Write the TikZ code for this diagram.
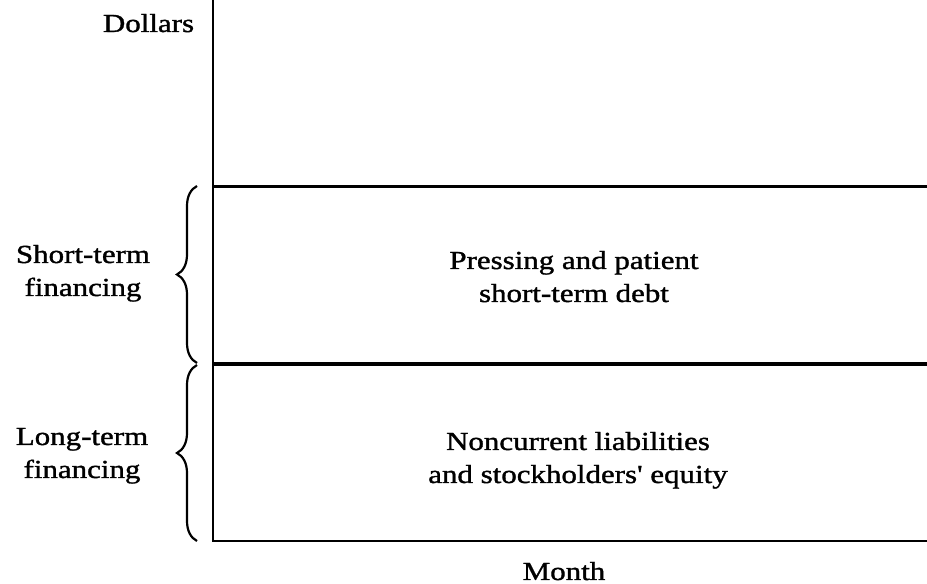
\documentclass[tikz,border=0pt]{standalone}
\usepackage{fontspec}
\setmainfont[FakeStretch=1.19,FakeBold=1.3,Ligatures=TeXOff]{Liberation Serif}
\usetikzlibrary{decorations.pathreplacing}
\begin{document}
\begin{tikzpicture}[x=1pt,y=1pt,
  lbl/.style={inner sep=0pt,align=center,anchor=base,font=\fontsize{26}{33}\selectfont},
  axisline/.style={line width=2pt},
  levelline/.style={line width=3.2pt},
  bracestyle/.style={line width=2.2pt,decorate,decoration={brace,amplitude=20pt}}]
\useasboundingbox (0,0) rectangle (927,584);
\coordinate (ytop) at (213,584);
\coordinate (O) at (213,42.5);
\coordinate (xend) at (927,42.5);
\coordinate (s1) at (213,397.5);
\coordinate (s2) at (927,397.5);
\coordinate (l1) at (213,220);
\coordinate (l2) at (927,220);
\coordinate (bA) at (197,398);
\coordinate (bB) at (197,221);
\coordinate (bC) at (197,219);
\coordinate (bD) at (197,43);
\draw[axisline] (ytop) -- (O) -- (xend);
\draw[levelline] (s1) -- (s2);
\draw[levelline] (l1) -- (l2);
\draw[bracestyle] (bB) -- (bA);
\draw[bracestyle] (bD) -- (bC);
\node[lbl] (dollars) at (148.5,552) {Dollars};
\node[lbl] (short) at (83,288) {Short-term\\financing};
\node[lbl] (long) at (82,106) {Long-term\\financing};
\node[lbl] (press) at (574,282) {Pressing and patient\\short-term debt};
\node[lbl] (nonc) at (578,101) {Noncurrent liabilities\\and stockholders' equity};
\node[lbl] (month) at (564,4) {Month};
\end{tikzpicture}
\end{document}
